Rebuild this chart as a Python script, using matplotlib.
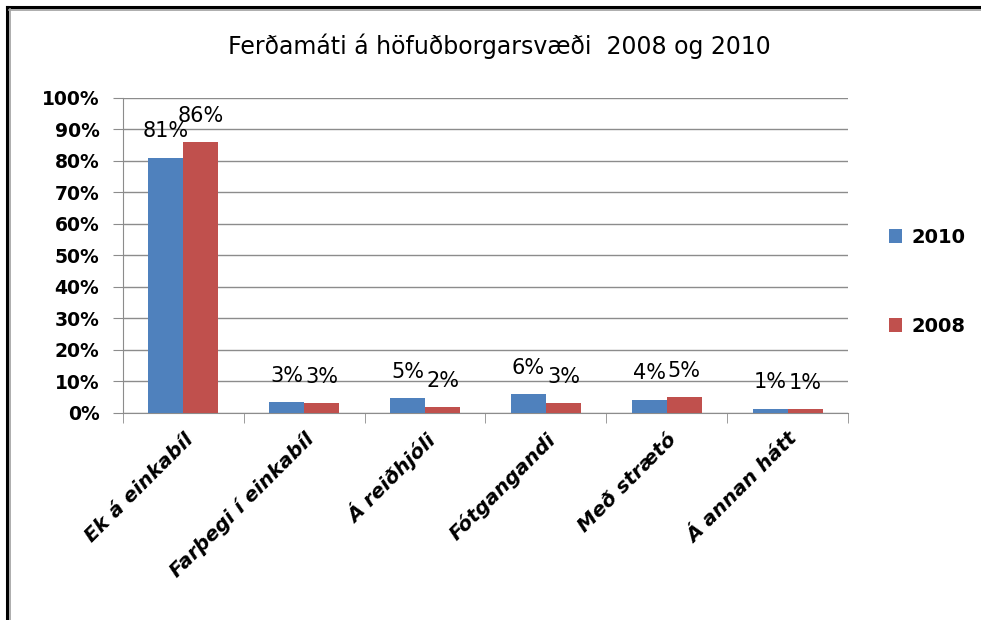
import matplotlib
matplotlib.use("Agg")
import matplotlib.pyplot as plt
from matplotlib.ticker import PercentFormatter
from matplotlib.lines import Line2D
import numpy as np

# Ferðamáti, hlutfall (%)
flokkar = ["Ek á einkabíl", "Farþegi í einkabíl", "Á reiðhjóli",
           "Fótgangandi", "Með strætó", "Á annan hátt"]
ar_2010 = [81, 3.4, 4.7, 5.9, 4.2, 1.4]
ar_2008 = [86, 3.1, 1.8, 3.1, 5.1, 1.2]
merki_2010 = ["81%", "3%", "5%", "6%", "4%", "1%"]
merki_2008 = ["86%", "3%", "2%", "3%", "5%", "1%"]

BLAR = "#4F81BD"
RAUDUR = "#C0504D"
GRAR = "#8C8C8C"

plt.rcParams["font.family"] = ["DejaVu Sans"]

fig = plt.figure(figsize=(9.81, 6.2), dpi=100)
ax = fig.add_axes([0.1254, 0.3339, 0.7390, 0.5081])

x = np.arange(len(flokkar))
b = 0.29
s1 = ax.bar(x - b / 2, ar_2010, b, color=BLAR, label="2010", zorder=3)
s2 = ax.bar(x + b / 2, ar_2008, b, color=RAUDUR, label="2008", zorder=3)

for stika, texti in zip(s1, merki_2010):
    ax.annotate(texti, (stika.get_x() + stika.get_width() / 2, stika.get_height()),
                xytext=(0, 19), textcoords="offset points", ha="center", va="center",
                fontsize=15)
for stika, texti in zip(s2, merki_2008):
    ax.annotate(texti, (stika.get_x() + stika.get_width() / 2, stika.get_height()),
                xytext=(0, 19), textcoords="offset points", ha="center", va="center",
                fontsize=15)

ax.set_xlim(-0.5, len(flokkar) - 0.5)
ax.set_ylim(0, 100)
ax.set_yticks(np.arange(0, 101, 10))
ax.yaxis.set_major_formatter(PercentFormatter(decimals=0))
ax.grid(axis="y", color=GRAR, linewidth=1, zorder=0)

ax.set_xticks(x)
ax.set_xticklabels(flokkar, rotation=45, ha="right", rotation_mode="anchor",
                   fontsize=14.5, fontweight="bold", fontstyle="italic")
ax.set_xticks(np.arange(-0.5, len(flokkar), 1), minor=True)
ax.tick_params(axis="x", which="major", length=0, pad=12)
ax.tick_params(axis="x", which="minor", length=7, color=GRAR, direction="out")
ax.tick_params(axis="y", length=7, color=GRAR, labelsize=13.5, pad=10)
for lbl in ax.get_yticklabels():
    lbl.set_fontweight("bold")

for hlid in ["top", "right"]:
    ax.spines[hlid].set_visible(False)
ax.spines["left"].set_color(GRAR)
ax.spines["bottom"].set_color(GRAR)

fig.text(0.509, 0.925, "Ferðamáti á höfuðborgarsvæði  2008 og 2010",
         ha="center", va="center", fontsize=17)

fig.legend(handles=[s1, s2], loc="center left", bbox_to_anchor=(0.888, 0.545),
           frameon=False, prop={"size": 14, "weight": "bold"},
           handlelength=0.7, handleheight=0.7, handletextpad=0.5, labelspacing=3.6)

# rammi vinstra megin og að ofan
fig.add_artist(Line2D([7 / 981, 7 / 981], [0, 1 - 7 / 620], color="black", linewidth=2.2,
                      transform=fig.transFigure))
fig.add_artist(Line2D([7 / 981, 1], [1 - 7 / 620, 1 - 7 / 620], color="black", linewidth=2.2,
                      transform=fig.transFigure))
fig.add_artist(Line2D([9.5 / 981, 9.5 / 981], [0, 1 - 9 / 620], color="#A0A0A0", linewidth=1.2,
                      transform=fig.transFigure))
fig.add_artist(Line2D([9 / 981, 1], [1 - 9.5 / 620, 1 - 9.5 / 620], color="#A0A0A0",
                      linewidth=1.2, transform=fig.transFigure))

fig.savefig("out.png", dpi=100)
